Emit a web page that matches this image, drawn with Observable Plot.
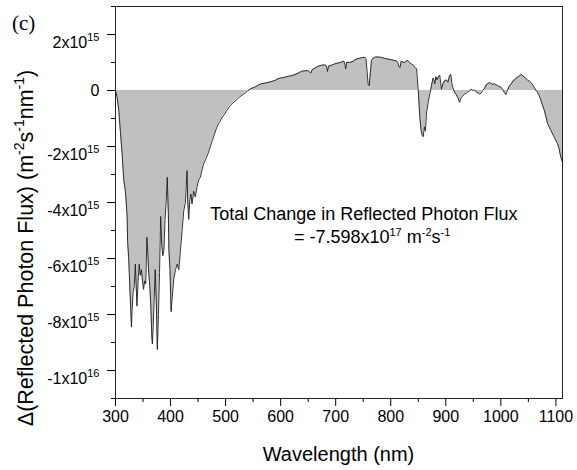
<!DOCTYPE html>
<html><head><meta charset="utf-8">
<script src="https://cdn.jsdelivr.net/npm/d3@7"></script>
<script src="https://cdn.jsdelivr.net/npm/@observablehq/plot@0.6"></script>
<style>body{margin:0;background:#fff}</style>
</head><body><div id="chart"></div>
<script>
// Wavelength (nm)
const wavelength = [300,303,306,309,312,315,318,321,322,324,325,327,329,330,332,334,336,338,339,341,343,345,347,349,351,353,355,357,359,360,362,364,366,367,369,371,372,374,376,378,380,382,384,386,388,390,392,394,396,397,399,401,403,406,409,412,415,418,421,424,427,430,431,433,435,437,439,442,445,448,451,454,457,460,464,468,472,476,480,484,487,490,494,498,502,506,510,515,520,525,530,535,540,545,550,555,560,565,570,575,580,585,590,595,600,605,610,614,620,626,632,638,644,650,653,655,657,659,664,668,674,680,683,685,687,692,698,704,710,715,717,718,720,726,732,738,743,747,753,755,757,759,761,763,765,768,771,777,783,789,795,801,807,811,813,815,817,819,822,825,828,831,834,838,841,844,847,848,850,851.5,853,855,857,859,861,863,865,868,871,874,877,879,880,882,884,886,889,892,895,898,901,904,907,909,911,913,916,919,922,925,928,931,934,937,940,943,946,949,952,955,958,961,964,967,970,973,976,979,982,985,988,991,994,997,1000,1003,1006,1009,1012,1015,1019,1022,1025,1028,1031,1034,1037,1040,1043,1046,1049,1052,1055,1058,1061,1064,1067,1070,1073,1076,1079,1082,1085,1088,1091,1094,1097,1100,1103,1106,1108,1110,1112];
// Delta reflected photon flux, in units of 1e15 m^-2 s^-1 nm^-1
const deltaFlux = [0,-0.25,-0.71,-1.5,-2.26,-3.2,-3.6,-4.45,-5.4,-6.0,-6.5,-7.5,-8.45,-7.9,-7.2,-7.0,-6.2,-7.2,-7.7,-6.8,-6.2,-6.6,-6.4,-6.8,-7.1,-6.8,-6.9,-5.24,-5.9,-6.4,-6.9,-7.6,-8.8,-9.05,-8.2,-7.0,-6.4,-7.5,-9.25,-8.0,-6.5,-4.5,-5.5,-5.9,-5.7,-4.6,-4.0,-3.1,-4.4,-5.7,-6.4,-7.9,-7.4,-6.7,-6.4,-6.2,-6.4,-5.7,-5.0,-4.3,-4.0,-2.86,-3.9,-4.6,-3.9,-3.7,-4.05,-3.6,-3.8,-3.45,-3.2,-3.1,-2.85,-2.62,-2.45,-2.26,-2.02,-1.78,-1.55,-1.31,-1.19,-1.1,-0.95,-0.85,-0.72,-0.6,-0.5,-0.42,-0.33,-0.24,-0.16,-0.1,-0.02,0.05,0.1,0.14,0.2,0.24,0.26,0.28,0.3,0.33,0.36,0.42,0.45,0.46,0.49,0.51,0.53,0.57,0.62,0.69,0.7,0.71,0.66,0.63,0.72,0.77,0.82,0.87,0.9,0.92,0.88,0.68,0.87,0.9,0.95,0.98,1.01,1.05,0.9,0.77,1.01,1.0,1.05,1.13,1.15,1.17,1.19,1.13,0.7,0.2,0.18,0.65,1.07,1.15,1.19,1.2,1.18,1.15,1.12,1.1,1.07,1.05,1.0,0.85,0.83,1.05,1.02,1.0,1.05,1.07,1.0,0.95,0.9,0.83,0.77,0.5,0.0,-0.54,-1.0,-1.4,-1.6,-1.65,-1.3,-1.45,-0.8,-0.42,-0.12,0.18,0.45,0.35,0.24,0.5,0.38,0.48,0.55,0.05,0.25,0.35,0.38,0.3,0.54,0.58,0.25,0.1,-0.06,-0.15,-0.26,-0.42,-0.25,-0.2,-0.12,-0.1,-0.05,-0.02,0.05,0.0,0.02,-0.05,-0.08,-0.12,-0.1,0.0,0.06,0.2,0.24,0.28,0.26,0.22,0.24,0.2,0.18,0.14,0.12,0.05,-0.06,-0.15,0.0,0.15,0.24,0.34,0.38,0.45,0.48,0.52,0.58,0.52,0.48,0.42,0.36,0.33,0.28,0.2,0.1,0.0,-0.08,-0.2,-0.36,-0.55,-0.71,-0.95,-1.19,-1.31,-1.43,-1.55,-1.67,-1.79,-1.9,-2.1,-2.3,-2.45,-2.56];

const xTicks = [300,400,500,600,700,800,900,1000,1100];
const xMinor = [350,450,550,650,750,850,950,1050];
const yTicks = [2,0,-2,-4,-6,-8,-10];
const yTickLabels = ["2x10^15","0","-2x10^15","-4x10^15","-6x10^15","-8x10^15","-1x10^16"];
const yMinor = [3,1,-1,-3,-5,-7,-9,-11];

const data = wavelength.map((w, i) => ({w, v: deltaFlux[i]}));

const plot = Plot.plot({
  width: 577, height: 470,
  marginLeft: 115, marginRight: 15, marginTop: 6, marginBottom: 72,
  style: {fontFamily: "'Liberation Sans', Arial, sans-serif", fontSize: "16px", background: "#fff", color: "#000"},
  x: {domain: [300, 1112]},
  y: {domain: [-11, 3]},
  marks: [
    Plot.areaY(data, {x: "w", y: "v", fill: "#c0c0c0"}),
    Plot.lineY(data, {x: "w", y: "v", stroke: "#1a1a1a", strokeWidth: 0.9}),
    Plot.frame({stroke: "#222", strokeWidth: 1}),
    Plot.axisX({ticks: xMinor, tickSize: 4, tickFormat: () => "", label: null}),
    Plot.axisX({ticks: xTicks, tickSize: 8, tickPadding: 4, label: null, tickFormat: d => String(d)}),
    Plot.axisY({ticks: yMinor, tickSize: 4, tickFormat: () => "", label: null}),
    Plot.axisY({ticks: yTicks, tickSize: 8, tickPadding: 8, label: null, tickFormat: d => yTickLabels[yTicks.indexOf(d)]})
  ]
});
document.getElementById("chart").appendChild(plot);

const svg = d3.select(plot);
// superscripts in y tick labels
svg.selectAll('g[aria-label="y-axis tick label"] text').each(function() {
  const t = this.textContent;
  const m = t.match(/^(.*)\^(.*)$/);
  if (!m) return;
  const sel = d3.select(this);
  sel.text(null).attr("dy", "0.5em");
  sel.append("tspan").text(m[1]);
  sel.append("tspan").attr("dy", "-7").attr("font-size", "11px").text(m[2]);
});

function rich(sel, parts, supSize, rise) {
  let up = false;
  for (const [s, sup] of parts) {
    const ts = sel.append("tspan").text(s);
    if (sup && !up) { ts.attr("dy", -rise).attr("font-size", supSize); up = true; }
    else if (sup) { ts.attr("font-size", supSize); }
    else if (!sup && up) { ts.attr("dy", rise); up = false; }
  }
}

// y title
const yt = svg.append("text")
  .attr("transform", "translate(33,248) rotate(-90)")
  .attr("text-anchor", "middle")
  .attr("font-size", "21.5px").attr("fill", "#000");
rich(yt, [["Δ(Reflected Photon Flux) (m"], ["-2", 1], ["s"], ["-1", 1], ["nm"], ["-1", 1], [")"]], "14px", 9);

// x title
svg.append("text")
  .attr("x", (115 + 562) / 2).attr("y", 461)
  .attr("text-anchor", "middle")
  .attr("font-size", "20px").attr("fill", "#000")
  .text("Wavelength (nm)");

// panel label
svg.append("text")
  .attr("x", 12).attr("y", 30)
  .attr("text-anchor", "start")
  .attr("font-family", "'Liberation Serif', 'Times New Roman', serif")
  .attr("font-size", "21px").attr("fill", "#000")
  .text("(c)");

// annotation
const xs = plot.scale("x"), ys = plot.scale("y");
svg.append("text")
  .attr("x", xs.apply(473)).attr("y", ys.apply(-4.64))
  .attr("text-anchor", "start")
  .attr("font-size", "18px").attr("fill", "#000")
  .text("Total Change in Reflected Photon Flux");
const a2 = svg.append("text")
  .attr("x", xs.apply(625)).attr("y", ys.apply(-5.46))
  .attr("text-anchor", "start")
  .attr("font-size", "18px").attr("fill", "#000");
rich(a2, [["= -7.598x10"], ["17", 1], [" m"], ["-2", 1], ["s"], ["-1", 1]], "11px", 7);
</script>
</body></html>
